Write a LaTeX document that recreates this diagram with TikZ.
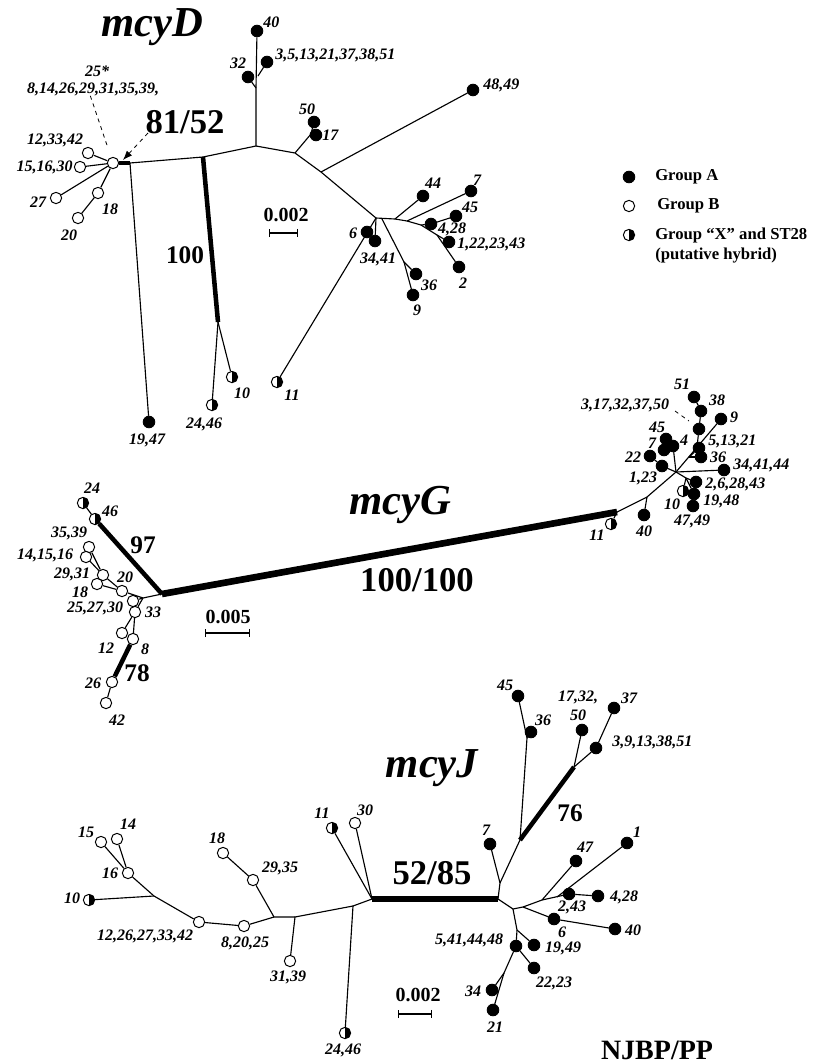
\documentclass[tikz,border=0pt]{standalone}
\usepackage{fontspec}
\setmainfont{Liberation Serif}
\usetikzlibrary{arrows.meta}
\tikzset{
	dotA/.style={circle, draw, fill=black, line width=.6pt, inner sep=0, minimum size=8.8pt},
	dotB/.style={circle, draw, fill=white, line width=.75pt, inner sep=0, minimum size=8.5pt},
	dotX/.style={circle, draw, fill=white, line width=.75pt, inner sep=0, minimum size=8.5pt,
		path picture={\fill[black] (path picture bounding box.north) rectangle (path picture bounding box.south east);}},
	lab/.style={inner sep=0, font=\bfseries\itshape\fontsize{12}{14}\selectfont},
	boot/.style={inner sep=0, font=\bfseries\fontsize{19}{22}\selectfont},
	bigboot/.style={inner sep=0, font=\bfseries\fontsize{26}{30}\selectfont},
	gene/.style={inner sep=0, font=\bfseries\itshape\fontsize{32}{36}\selectfont},
	sclab/.style={inner sep=0, font=\bfseries\fontsize{15}{17}\selectfont},
	leg/.style={inner sep=0, anchor=west, font=\bfseries\fontsize{12.5}{14}\selectfont},
	br/.style={line width=.85pt},
	thickbr/.style={line width=3.4pt},
	heavybr/.style={line width=5pt},
	scbar/.style={line width=.8pt, |-|}
}
\begin{document}
\begin{tikzpicture}[x=0.75pt, y=-0.75pt]
	\useasboundingbox (0,0) rectangle (817,1064);
	% mcyD
	\node[gene] (tD) at (152,27) {mcyD};
	\node[dotB] (d825) at (113,163) {};
	\node[dotB] (d12) at (88,153) {};
	\node[dotB] (d15) at (80,167) {};
	\node[dotB] (d27) at (56,198) {};
	\node[dotB] (d18) at (98,193) {};
	\node[dotB] (d20) at (78,218) {};
	\node[dotA] (d1947) at (149,422) {};
	\node[dotX] (d2446) at (212,405) {};
	\node[dotX] (d10) at (232,377) {};
	\node[dotA] (d32) at (248,77) {};
	\node[dotA] (d40) at (257,31) {};
	\node[dotA] (d3) at (267,62) {};
	\node[dotA] (d50) at (314,122) {};
	\node[dotA] (d17) at (316,135) {};
	\node[dotA] (d48) at (473,90) {};
	\node[dotX] (d11) at (277,382) {};
	\node[dotA] (d6) at (367,232) {};
	\node[dotA] (d3441) at (375,241) {};
	\node[dotA] (d36) at (416,274) {};
	\node[dotA] (d9) at (413,295) {};
	\node[dotA] (d44) at (423,196) {};
	\node[dotA] (d7) at (471,191) {};
	\node[dotA] (d428) at (431,224) {};
	\node[dotA] (d45) at (456,216) {};
	\node[dotA] (d1) at (449,242) {};
	\node[dotA] (d2) at (459,267) {};
	\coordinate (dj0) at (130,163);
	\coordinate (dj1) at (203,157);
	\coordinate (dj2) at (256,146);
	\coordinate (dj100) at (218,322);
	\coordinate (dj3) at (256,88);
	\coordinate (dj3b) at (258,76);
	\coordinate (dj4) at (295,153);
	\coordinate (dj5) at (311,134);
	\coordinate (dj6) at (321,172);
	\coordinate (dj7) at (376,218);
	\coordinate (dj8) at (395,219);
	\coordinate (dj9) at (382,219);
	\coordinate (dj10) at (404,262);
	\coordinate (dj11) at (407,221);
	\coordinate (dj12) at (421,225);
	\coordinate (dj13) at (437,235);
	\coordinate (darr) at (123,160);
	\draw[thickbr] (d825) -- (dj0);
	\draw[br] (d825) -- (d12);
	\draw[br] (d825) -- (d15);
	\draw[br] (d825) -- (d27);
	\draw[br] (d825) -- (d18) -- (d20);
	\draw[br] (dj0) -- (d1947);
	\draw[br] (dj0) -- (dj1) -- (dj2) -- (dj3) -- (d40);
	\draw[thickbr] (dj1) -- (dj100);
	\draw[br] (dj100) -- (d2446);
	\draw[br] (dj100) -- (d10);
	\draw[br] (dj3) -- (d32);
	\draw[br] (dj3b) -- (d3);
	\draw[br] (dj2) -- (dj4) -- (dj6) -- (dj7);
	\draw[br] (dj4) -- (dj5) -- (d50);
	\draw[br] (dj5) -- (d17);
	\draw[br] (dj6) -- (d48);
	\draw[br] (dj7) -- (d11);
	\draw[br] (dj7) -- (d3441);
	\draw[br] (dj7) -- (dj8);
	\draw[br] (dj9) -- (dj10) -- (d36);
	\draw[br] (dj10) -- (d9);
	\draw[br] (dj8) -- (d44);
	\draw[br] (dj8) -- (dj11) -- (d7);
	\draw[br] (dj11) -- (dj12) -- (d428) -- (d45);
	\draw[br] (dj12) -- (dj13) -- (d1);
	\draw[br] (dj13) -- (d2);
	\node[lab] (lD25) at (97,71) {25*};
	\node[lab] (lD8) at (93,89) {8,14,26,29,31,35,39,};
	\node[lab] (lD12) at (55,140) {12,33,42};
	\node[lab, anchor=east] (lD15) at (73,167) {15,16,30};
	\node[lab] (lD27) at (38,202) {27};
	\node[lab] (lD18) at (110,209) {18};
	\node[lab] (lD20) at (69,235) {20};
	\node[lab] (lD1947) at (147,440) {19,47};
	\node[lab] (lD2446) at (204,424) {24,46};
	\node[lab] (lD10) at (242,393) {10};
	\node[lab] (lD32) at (238,63) {32};
	\node[lab, anchor=west] (lD40) at (263,22) {40};
	\node[lab, anchor=west] (lD3) at (275,55) {3,5,13,21,37,38,51};
	\node[lab] (lD50) at (307,109) {50};
	\node[lab, anchor=west] (lD17) at (322,135) {17};
	\node[lab, anchor=west] (lD48) at (483,85) {48,49};
	\node[lab] (lD11) at (292,395) {11};
	\node[lab] (lD6) at (353,233) {6};
	\node[lab] (lD3441) at (378,259) {34,41};
	\node[lab] (lD36) at (429,285) {36};
	\node[lab] (lD9) at (417,310) {9};
	\node[lab] (lD44) at (433,183) {44};
	\node[lab] (lD7) at (477,180) {7};
	\node[lab] (lD45) at (470,207) {45};
	\node[lab] (lD428) at (452,229) {4,28};
	\node[lab, anchor=west] (lD1) at (457,244) {1,22,23,43};
	\node[lab] (lD2) at (463,283) {2};
	\node[bigboot] (bD8152) at (185,122) {81/52};
	\node[boot] (bD100) at (185,255) {100};
	\draw[dashed, line width=.6pt, shorten >=9pt] ([xshift=-2pt]lD8.south) -- (d825);
	\draw[dashed, line width=.6pt, -{Latex[length=7pt]}] (148,133) -- (darr);
	\node[sclab] (sD) at (286,215) {0.002};
	\draw[scbar] (269,233) -- (298,233);
	% legend
	\node[dotA] (kA) at (629,177) {};
	\node[dotB] (kB) at (629,206) {};
	\node[dotX] (kX) at (629,235) {};
	\node[leg] (lkA) at (655,177) {Group A};
	\node[leg] (lkB) at (657,206) {Group B};
	\node[leg] (lkX) at (655,235) {Group “X” and ST28};
	\node[leg] (lkX2) at (655,256) {(putative hybrid)};
	% mcyG
	\node[gene] (tG) at (400,505) {mcyG};
	\node[dotX] (g11) at (611,524) {};
	\node[dotA] (g40) at (644,515) {};
	\node[dotA] (g123) at (662,466) {};
	\node[dotA] (g22) at (650,456) {};
	\node[dotA] (g7) at (664,450) {};
	\node[dotA] (g45) at (666,439) {};
	\node[dotA] (g4) at (673,446) {};
	\node[dotA] (g9) at (721,419) {};
	\node[dotA] (g36) at (701,457) {};
	\node[dotA] (g51321) at (699,448) {};
	\node[dotA] (g3) at (699,429) {};
	\node[dotA] (g38) at (701,411) {};
	\node[dotA] (g51) at (694,397) {};
	\node[dotA] (g34) at (724,470) {};
	\node[dotA] (g2628) at (696,482) {};
	\node[dotX] (g10) at (683,491) {};
	\node[dotA] (g1948) at (694,494) {};
	\node[dotA] (g4749) at (693,506) {};
	\node[dotX] (g46) at (95,519) {};
	\node[dotX] (g24) at (83,503) {};
	\node[dotB] (g2527) at (133,601) {};
	\node[dotB] (g20) at (122,591) {};
	\node[dotB] (g2931) at (103,575) {};
	\node[dotB] (g18) at (97,584) {};
	\node[dotB] (g3539) at (89,547) {};
	\node[dotB] (g1416) at (86,557) {};
	\node[dotB] (g33) at (135,612) {};
	\node[dotB] (g12) at (122,633) {};
	\node[dotB] (g8) at (133,639) {};
	\node[dotB] (g26) at (112,682) {};
	\node[dotB] (g42) at (106,703) {};
	\coordinate (g0) at (162,594);
	\coordinate (gR) at (617,512);
	\coordinate (gN) at (647,497);
	\coordinate (gC) at (676,472);
	\coordinate (gj1) at (689,457);
	\coordinate (gj2) at (697,447);
	\coordinate (gj5) at (686,478);
	\coordinate (gj6) at (143,598);
	\draw[heavybr] (g0) -- (gR);
	\draw[br] (gR) -- (gN) -- (gC);
	\draw[br] (gR) -- (g11);
	\draw[br] (gN) -- (g40);
	\draw[br] (gC) -- (g123) -- (g22);
	\draw[br] (gC) -- (g4) -- (g7) -- (g45);
	\draw[br] (gC) -- (g9);
	\draw[br] (gj1) -- (g36);
	\draw[br] (gj1) -- (g51321);
	\draw[br] (gj2) -- (g3) -- (g38) -- (g51);
	\draw[br] (gC) -- (g34);
	\draw[br] (gC) -- (gj5) -- (g2628);
	\draw[br] (gj5) -- (g10);
	\draw[br] (gj5) -- (g1948) -- (g4749);
	\draw[thickbr] (g0) -- (g46);
	\draw[br] (g46) -- (g24);
	\draw[br] (g0) -- (gj6) -- (g2527);
	\draw[br] (gj6) -- (g20) -- (g2931);
	\draw[br] (g20) -- (g18);
	\draw[br] (g2931) -- (g3539);
	\draw[br] (g2931) -- (g1416);
	\draw[br] (gj6) -- (g33) -- (g12);
	\draw[br] (g33) -- (g8);
	\draw[thickbr] (g8) -- (g26);
	\draw[br] (g26) -- (g42);
	\node[lab] (lG11) at (597,535) {11};
	\node[lab] (lG40) at (644,531) {40};
	\node[lab] (lG123) at (643,478) {1,23};
	\node[lab] (lG22) at (633,457) {22};
	\node[lab] (lG45) at (657,427) {45};
	\node[lab] (lG7) at (652,443) {7};
	\node[lab] (lG4) at (684,440) {4};
	\node[lab] (lG9) at (734,417) {9};
	\node[lab] (lG51) at (682,384) {51};
	\node[lab] (lG38) at (717,400) {38};
	\node[lab] (lG3) at (625,405) {3,17,32,37,50};
	\draw[dashed, line width=.6pt] (675,411) -- (689,421);
	\node[lab, anchor=west] (lG51321) at (708,441) {5,13,21};
	\node[lab] (lG36) at (718,457) {36};
	\node[lab, anchor=west] (lG34) at (733,465) {34,41,44};
	\node[lab, anchor=west] (lG2628) at (705,484) {2,6,28,43};
	\node[lab] (lG10) at (672,504) {10};
	\node[lab, anchor=west] (lG1948) at (703,501) {19,48};
	\node[lab] (lG4749) at (692,521) {47,49};
	\node[lab] (lG46) at (110,511) {46};
	\node[lab] (lG24) at (92,488) {24};
	\node[lab] (lG2527) at (95,608) {25,27,30};
	\node[lab] (lG20) at (125,577) {20};
	\node[lab] (lG2931) at (72,574) {29,31};
	\node[lab] (lG18) at (80,592) {18};
	\node[lab] (lG3539) at (69,533) {35,39};
	\node[lab] (lG1416) at (45,555) {14,15,16};
	\node[lab] (lG33) at (153,612) {33};
	\node[lab] (lG12) at (106,648) {12};
	\node[lab] (lG8) at (145,649) {8};
	\node[lab] (lG26) at (93,683) {26};
	\node[lab] (lG42) at (117,720) {42};
	\node[boot] (bG97) at (143,545) {97};
	\node[boot] (bG78) at (137,673) {78};
	\node[bigboot] (bG100) at (417,580) {100/100};
	\node[sclab] (sG) at (228,617) {0.005};
	\draw[scbar] (205,633) -- (250,633);
	% mcyJ
	\node[gene] (tJ) at (432,768) {mcyJ};
	\node[dotX] (j11) at (332,828) {};
	\node[dotB] (j30) at (355,823) {};
	\node[dotX] (j2446) at (345,1033) {};
	\node[dotB] (j3139) at (290,961) {};
	\node[dotB] (j2935) at (253,880) {};
	\node[dotB] (j18) at (223,853) {};
	\node[dotB] (j820) at (244,926) {};
	\node[dotB] (j1226) at (199,922) {};
	\node[dotX] (j10) at (89,900) {};
	\node[dotB] (j16) at (128,873) {};
	\node[dotB] (j15) at (101,842) {};
	\node[dotB] (j14) at (117,839) {};
	\node[dotA] (j7) at (490,844) {};
	\node[dotA] (j45) at (518,696) {};
	\node[dotA] (j36) at (531,732) {};
	\node[dotA] (j1732) at (582,730) {};
	\node[dotA] (j3913) at (596,748) {};
	\node[dotA] (j37) at (614,708) {};
	\node[dotA] (j47) at (576,861) {};
	\node[dotA] (j1) at (627,843) {};
	\node[dotA] (j243) at (569,894) {};
	\node[dotA] (j428) at (598,896) {};
	\node[dotA] (j6) at (554,919) {};
	\node[dotA] (j40) at (615,929) {};
	\node[dotA] (j541) at (516,946) {};
	\node[dotA] (j1949) at (534,945) {};
	\node[dotA] (j2223) at (534,968) {};
	\node[dotA] (j34) at (492,990) {};
	\node[dotA] (j21) at (493,1010) {};
	\coordinate (jL) at (372,899);
	\coordinate (jR) at (498,899);
	\coordinate (jj1) at (353,906);
	\coordinate (jj2) at (295,917);
	\coordinate (jj3) at (274,917);
	\coordinate (jj4) at (154,896);
	\coordinate (jj5) at (500,883);
	\coordinate (jj6) at (520,840);
	\coordinate (jj7) at (574,767);
	\coordinate (jj8) at (527,738);
	\coordinate (jj9) at (513,909);
	\coordinate (jj10) at (523,907);
	\coordinate (jj11) at (542,900);
	\coordinate (jj12) at (557,897);
	\coordinate (jj13) at (517,930);
	\coordinate (jj14) at (504,973);
	\draw[heavybr] (jL) -- (jR);
	\draw[br] (jL) -- (j11);
	\draw[br] (jL) -- (j30);
	\draw[br] (jL) -- (jj1) -- (j2446);
	\draw[br] (jj1) -- (jj2) -- (j3139);
	\draw[br] (jj2) -- (jj3) -- (j2935) -- (j18);
	\draw[br] (jj3) -- (j820) -- (j1226) -- (jj4) -- (j10);
	\draw[br] (jj4) -- (j16) -- (j15);
	\draw[br] (j16) -- (j14);
	\draw[br] (jR) -- (jj5) -- (j7);
	\draw[br] (jj5) -- (jj6);
	\draw[thickbr] (jj6) -- (jj7);
	\draw[br] (jj6) -- (jj8) -- (j45);
	\draw[br] (jj8) -- (j36);
	\draw[br] (jj7) -- (j1732);
	\draw[br] (jj7) -- (j3913) -- (j37);
	\draw[br] (jR) -- (jj9) -- (jj10) -- (jj11) -- (j243) -- (j428);
	\draw[br] (jj11) -- (j47);
	\draw[br] (jj12) -- (j1);
	\draw[br] (jj10) -- (j6) -- (j40);
	\draw[br] (jj9) -- (jj13) -- (j541);
	\draw[br] (jj13) -- (j1949);
	\draw[br] (j541) -- (j2223);
	\draw[br] (j541) -- (jj14) -- (j34);
	\draw[br] (jj14) -- (j21);
	\node[lab] (lJ11) at (322,813) {11};
	\node[lab] (lJ30) at (365,810) {30};
	\node[lab] (lJ2446) at (343,1050) {24,46};
	\node[lab] (lJ3139) at (288,977) {31,39};
	\node[lab] (lJ2935) at (280,868) {29,35};
	\node[lab] (lJ18) at (217,838) {18};
	\node[lab] (lJ820) at (245,943) {8,20,25};
	\node[lab] (lJ1226) at (145,936) {12,26,27,33,42};
	\node[lab] (lJ10) at (72,898) {10};
	\node[lab] (lJ16) at (110,873) {16};
	\node[lab] (lJ15) at (86,832) {15};
	\node[lab] (lJ14) at (128,824) {14};
	\node[lab] (lJ7) at (486,830) {7};
	\node[lab] (lJ45) at (505,685) {45};
	\node[lab] (lJ36) at (543,720) {36};
	\node[lab] (lJ1732) at (578,697) {17,32,};
	\node[lab] (lJ50) at (578,715) {50};
	\node[lab] (lJ37) at (629,698) {37};
	\node[lab, anchor=west] (lJ3913) at (612,742) {3,9,13,38,51};
	\node[lab] (lJ47) at (585,847) {47};
	\node[lab] (lJ1) at (637,832) {1};
	\node[lab] (lJ243) at (572,907) {2,43};
	\node[lab] (lJ428) at (624,897) {4,28};
	\node[lab] (lJ6) at (562,932) {6};
	\node[lab] (lJ40) at (633,930) {40};
	\node[lab] (lJ541) at (469,940) {5,41,44,48};
	\node[lab] (lJ1949) at (563,948) {19,49};
	\node[lab] (lJ2223) at (554,983) {22,23};
	\node[lab] (lJ34) at (473,991) {34};
	\node[lab] (lJ21) at (495,1027) {21};
	\node[bigboot] (bJ5285) at (432,873) {52/85};
	\node[boot] (bJ76) at (570,813) {76};
	\node[sclab] (sJ) at (418,995) {0.002};
	\draw[scbar] (398,1014) -- (432,1014);
	\node[inner sep=0, font=\bfseries\fontsize{21}{24}\selectfont] (nj) at (657,1050) {NJBP/PP};
\end{tikzpicture}
\end{document}
